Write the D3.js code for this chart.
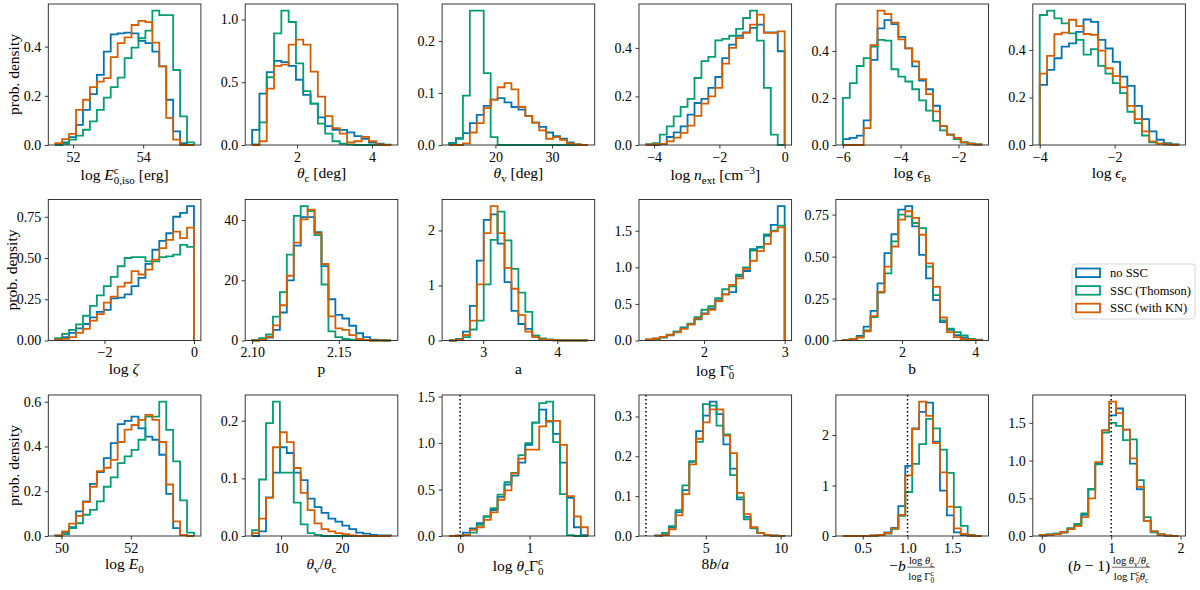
<!DOCTYPE html>
<html>
<head>
<meta charset="utf-8">
<script src="https://cdn.jsdelivr.net/npm/d3@7"></script>
<style>
  body { margin: 0; background: #fff; }
  svg text { font-family: "Liberation Serif", "DejaVu Serif", serif; fill: #000; }
</style>
</head>
<body>
<svg id="chart" width="1200" height="590"></svg>
<script>
// series order in every panel: no SSC, SSC (Thomson), SSC (with KN)
const SERIES = ['no SSC', 'SSC (Thomson)', 'SSC (with KN)'];
const COLORS = ['#0173b2', '#029e73', '#d55e00'];

// histogram heights (prob. density), one row per series
const hEiso = [
  [0, 0.011, 0.032, 0.082, 0.143, 0.207, 0.285, 0.38, 0.45, 0.454, 0.457, 0.454, 0.423, 0.414, 0.38, 0.32, 0.184, 0.055, 0.008, 0],
  [0, 0.005, 0.022, 0.038, 0.062, 0.096, 0.143, 0.193, 0.235, 0.274, 0.353, 0.396, 0.434, 0.465, 0.546, 0.528, 0.528, 0.305, 0.116, 0.011],
  [0.008, 0.024, 0.045, 0.143, 0.184, 0.235, 0.258, 0.272, 0.357, 0.414, 0.438, 0.488, 0.505, 0.5, 0.416, 0.32, 0.11, 0.022, 0, 0]
];
const hThetaC = [
  [0.12, 0.41, 0.58, 0.67, 0.66, 0.63, 0.52, 0.40, 0.33, 0.22, 0.15, 0.12, 0.12, 0.10, 0.07, 0.05, 0.02, 0.01, 0.003],
  [0.005, 0.18, 0.54, 0.89, 1.07, 0.98, 0.65, 0.43, 0.33, 0.17, 0.09, 0.03, 0.01, 0.003, 0, 0, 0, 0, 0],
  [0, 0.03, 0.45, 0.63, 0.64, 0.8, 0.84, 0.8, 0.585, 0.385, 0.23, 0.135, 0.09, 0.02, 0.03, 0.065, 0.03, 0.005, 0]
];
const hThetaV = [
  [0.004, 0.013, 0.023, 0.042, 0.058, 0.075, 0.087, 0.09, 0.082, 0.073, 0.068, 0.056, 0.043, 0.035, 0.024, 0.017, 0.012, 0.005, 0.001, 0],
  [0.003, 0.012, 0.095, 0.258, 0.258, 0.138, 0.015, 0, 0, 0, 0, 0, 0, 0, 0, 0, 0, 0, 0, 0],
  [0, 0, 0.003, 0.024, 0.042, 0.071, 0.087, 0.111, 0.119, 0.107, 0.073, 0.056, 0.043, 0.028, 0.012, 0.015, 0.01, 0.003, 0.001, 0]
];
const hNext = [
  [0, 0, 0.005, 0.033, 0.052, 0.077, 0.125, 0.173, 0.19, 0.235, 0.28, 0.358, 0.413, 0.45, 0.464, 0.482, 0.496, 0.464, 0.464, 0.386],
  [0.003, 0.008, 0.043, 0.077, 0.118, 0.157, 0.19, 0.276, 0.345, 0.363, 0.431, 0.437, 0.45, 0.478, 0.523, 0.553, 0.43, 0.235, 0.043, 0],
  [0.001, 0.003, 0.005, 0.015, 0.03, 0.05, 0.08, 0.12, 0.17, 0.2, 0.235, 0.335, 0.4, 0.44, 0.462, 0.496, 0.537, 0.462, 0.462, 0.468]
];
const hEpsB = [
  [0.025, 0.03, 0.04, 0.105, 0.362, 0.496, 0.531, 0.514, 0.46, 0.411, 0.334, 0.274, 0.237, 0.167, 0.08, 0.044, 0.025, 0.011, 0.006, 0.003],
  [0.2, 0.263, 0.336, 0.369, 0.418, 0.447, 0.444, 0.322, 0.291, 0.27, 0.237, 0.19, 0.146, 0.103, 0.062, 0.044, 0.025, 0.011, 0.006, 0.002],
  [0, 0, 0, 0.072, 0.425, 0.571, 0.557, 0.52, 0.449, 0.411, 0.355, 0.28, 0.216, 0.143, 0.08, 0.044, 0.03, 0.011, 0.006, 0.003]
];
const hEpsE = [
  [0.253, 0.316, 0.365, 0.414, 0.428, 0.476, 0.528, 0.518, 0.442, 0.406, 0.35, 0.288, 0.249, 0.165, 0.109, 0.057, 0.022, 0.008, 0.003],
  [0.547, 0.565, 0.533, 0.512, 0.47, 0.442, 0.38, 0.403, 0.333, 0.3, 0.26, 0.218, 0.14, 0.092, 0.04, 0.011, 0.006, 0.003, 0.001],
  [0.3, 0.375, 0.466, 0.473, 0.527, 0.5, 0.467, 0.463, 0.397, 0.323, 0.29, 0.243, 0.165, 0.109, 0.057, 0.015, 0.006, 0.003, 0.001]
];
const hZeta = [
  [0.01, 0.02, 0.046, 0.074, 0.1, 0.14, 0.174, 0.186, 0.255, 0.26, 0.28, 0.33, 0.38, 0.464, 0.55, 0.604, 0.65, 0.75, 0.774, 0.814],
  [0.014, 0.04, 0.064, 0.098, 0.15, 0.21, 0.274, 0.33, 0.386, 0.45, 0.5, 0.506, 0.506, 0.48, 0.48, 0.506, 0.51, 0.52, 0.58, 0.568],
  [0.005, 0.01, 0.02, 0.046, 0.07, 0.12, 0.16, 0.23, 0.266, 0.326, 0.35, 0.42, 0.4, 0.43, 0.49, 0.56, 0.61, 0.66, 0.62, 0.684]
];
const hP = [
  [0, 0.3, 1, 3.5, 9.3, 20, 31.5, 41, 41, 36, 24.7, 13.7, 8.5, 7.3, 4.9, 2.4, 1.1, 0.3, 0.1, 0],
  [0.2, 0.8, 2, 7.9, 16.1, 28.5, 41.4, 44.6, 43, 35, 18.6, 3, 1.1, 0.5, 0.3, 0.2, 0.1, 0, 0, 0],
  [0, 0.3, 1.2, 5, 11.7, 21.5, 32.5, 40.2, 43.5, 35.6, 25.4, 8, 4, 3.5, 1.8, 0.5, 0.2, 0, 0, 0]
];
const hA = [
  [0, 0.03, 0.16, 0.63, 1.45, 2.19, 2.29, 1.76, 1.06, 0.54, 0.3, 0.21, 0.09, 0.03, 0.01, 0.005, 0, 0, 0, 0],
  [0, 0.02, 0.06, 0.2, 0.36, 1.02, 1.83, 2.34, 1.82, 1.3, 0.87, 0.52, 0.09, 0.04, 0.02, 0.01, 0.005, 0.003, 0.002, 0.001],
  [0, 0.01, 0.1, 0.36, 1.02, 1.95, 2.44, 1.95, 1.32, 0.94, 0.46, 0.16, 0.06, 0.02, 0.01, 0.005, 0, 0, 0, 0]
];
const hGamma0 = [
  [0.012, 0.025, 0.045, 0.07, 0.12, 0.18, 0.22, 0.29, 0.37, 0.44, 0.55, 0.63, 0.66, 0.88, 0.95, 1.25, 1.28, 1.43, 1.58, 1.835],
  [0.01, 0.02, 0.04, 0.08, 0.12, 0.17, 0.23, 0.32, 0.42, 0.47, 0.58, 0.7, 0.74, 0.9, 1.0, 1.23, 1.27, 1.45, 1.5, 1.57],
  [0.014, 0.027, 0.05, 0.077, 0.11, 0.16, 0.22, 0.3, 0.36, 0.42, 0.54, 0.63, 0.76, 0.85, 0.98, 1.09, 1.22, 1.32, 1.49, 1.545]
];
const hB = [
  [0.003, 0.01, 0.028, 0.083, 0.177, 0.34, 0.52, 0.633, 0.78, 0.8, 0.68, 0.51, 0.37, 0.24, 0.11, 0.064, 0.032, 0.018, 0.008, 0.003],
  [0.002, 0.008, 0.02, 0.06, 0.14, 0.285, 0.4, 0.59, 0.75, 0.74, 0.7, 0.67, 0.44, 0.27, 0.12, 0.07, 0.05, 0.03, 0.01, 0.005],
  [0.002, 0.008, 0.018, 0.055, 0.145, 0.29, 0.44, 0.56, 0.72, 0.77, 0.73, 0.63, 0.46, 0.32, 0.137, 0.05, 0.02, 0.008, 0.004, 0.002]
];
const hE0 = [
  [0.003, 0.015, 0.04, 0.11, 0.155, 0.233, 0.286, 0.348, 0.415, 0.5, 0.514, 0.533, 0.481, 0.444, 0.43, 0.363, 0.188, 0.035, 0.005, 0],
  [0, 0.008, 0.035, 0.057, 0.095, 0.117, 0.155, 0.22, 0.262, 0.326, 0.356, 0.385, 0.43, 0.533, 0.533, 0.6, 0.474, 0.333, 0.159, 0.015],
  [0.002, 0.02, 0.055, 0.09, 0.152, 0.22, 0.29, 0.305, 0.34, 0.42, 0.475, 0.496, 0.519, 0.541, 0.519, 0.42, 0.23, 0.065, 0.005, 0]
];
const hViewRatio = [
  [0, 0.008, 0.067, 0.11, 0.154, 0.144, 0.11, 0.097, 0.065, 0.05, 0.04, 0.03, 0.025, 0.018, 0.012, 0.006, 0.004, 0.002, 0.001, 0.001],
  [0.01, 0.098, 0.196, 0.233, 0.11, 0.11, 0.058, 0.02, 0.005, 0.002, 0, 0, 0, 0, 0, 0, 0, 0, 0, 0],
  [0.005, 0.03, 0.066, 0.154, 0.18, 0.163, 0.118, 0.075, 0.045, 0.022, 0.012, 0.008, 0.005, 0.003, 0.001, 0, 0, 0, 0, 0]
];
const hThetaGamma = [
  [0, 0.005, 0.036, 0.083, 0.138, 0.21, 0.28, 0.42, 0.554, 0.65, 0.79, 0.98, 1.22, 1.36, 1.23, 1.1, 0.79, 0.41, 0.094, 0.01],
  [0, 0.003, 0.01, 0.036, 0.12, 0.21, 0.3, 0.446, 0.58, 0.68, 0.87, 1.0, 1.22, 1.43, 1.445, 1.01, 0.45, 0.01, 0, 0],
  [0, 0.003, 0.01, 0.065, 0.094, 0.174, 0.254, 0.39, 0.49, 0.674, 0.833, 0.93, 0.93, 1.18, 1.238, 1.238, 0.98, 0.43, 0.21, 0.094]
];
const hEightBA = [
  [0.001, 0.004, 0.022, 0.06, 0.115, 0.186, 0.263, 0.302, 0.337, 0.306, 0.23, 0.169, 0.092, 0.048, 0.02, 0.007, 0.003, 0.001, 0.0005],
  [0.001, 0.008, 0.025, 0.065, 0.127, 0.188, 0.236, 0.331, 0.327, 0.277, 0.255, 0.153, 0.097, 0.042, 0.019, 0.007, 0.002, 0.001, 0],
  [0.001, 0.002, 0.017, 0.052, 0.105, 0.18, 0.244, 0.285, 0.318, 0.318, 0.252, 0.208, 0.108, 0.055, 0.022, 0.008, 0.003, 0.001, 0.0005]
];
const hCond1 = [
  [0, 0, 0.002, 0.004, 0.008, 0.02, 0.07, 0.16, 0.59, 1.39, 2.13, 2.46, 2.64, 1.87, 0.9, 0.41, 0.07, 0.02, 0.005, 0],
  [0, 0, 0.002, 0.004, 0.008, 0.02, 0.05, 0.14, 0.4, 0.87, 1.43, 1.82, 2.32, 2.13, 1.71, 1.25, 0.57, 0.2, 0.02, 0],
  [0, 0, 0.002, 0.004, 0.01, 0.02, 0.06, 0.15, 0.42, 1.2, 2.12, 2.66, 2.38, 1.84, 1.26, 0.58, 0.15, 0.04, 0.01, 0]
];
const hCond2 = [
  [0.01, 0.02, 0.03, 0.05, 0.1, 0.15, 0.28, 0.62, 0.96, 1.4, 1.6, 1.69, 1.41, 0.96, 0.62, 0.2, 0.06, 0.02, 0.005, 0],
  [0.01, 0.02, 0.03, 0.05, 0.1, 0.16, 0.3, 0.62, 0.95, 1.37, 1.5, 1.46, 1.27, 1.28, 0.74, 0.25, 0.05, 0.02, 0.005, 0],
  [0.01, 0.015, 0.025, 0.05, 0.09, 0.13, 0.25, 0.5, 0.98, 1.4, 1.78, 1.63, 1.41, 1.03, 0.65, 0.2, 0.06, 0.02, 0.005, 0]
];

// per-panel bin layout (first edge, bin width), reference lines and ticks
const heights = [hEiso, hThetaC, hThetaV, hNext, hEpsB, hEpsE,
  hZeta, hP, hA, hGamma0, hB,
  hE0, hViewRatio, hThetaGamma, hEightBA, hCond1, hCond2];
const binStart = [51.49, 0.8, 11.81, -4.25, -6.0, -4.0, -3.1, 2.10, 2.54, 1.28, 0.389, 49.82, 5.24, -0.16, 1.62, 0.277, -0.03];
const binWidth = [0.198, 0.195, 1.225, 0.2125, 0.24, 0.195, 0.155, 0.004, 0.0935, 0.086, 0.189, 0.2, 1.14, 0.1, 0.455, 0.0775, 0.1];
const refLine = [null, null, null, null, null, null, null, null, null, null, null, null, null, 0, 1, 1, 1];
const xTicks = [[52, 54], [2, 4], [20, 30], [-4, -2, 0], [-6, -4, -2], [-4, -2], [-2, 0], [2.10, 2.15], [3, 4], [2, 3], [2, 4],
  [50, 52], [10, 20], [0, 1], [5, 10], [0.5, 1.0, 1.5], [0, 1, 2]];
const xDec = [0, 0, 0, 0, 0, 0, 0, 2, 0, 0, 0, 0, 0, 0, 0, 1, 0];
const yTicks = [[0, 0.2, 0.4], [0, 0.5, 1.0], [0, 0.1, 0.2], [0, 0.2, 0.4], [0, 0.2, 0.4], [0, 0.2, 0.4],
  [0, 0.25, 0.5, 0.75], [0, 20, 40], [0, 1, 2], [0, 0.5, 1.0, 1.5], [0, 0.25, 0.5, 0.75],
  [0, 0.2, 0.4, 0.6], [0, 0.1, 0.2], [0, 0.5, 1.0, 1.5], [0, 0.1, 0.2, 0.3], [0, 1, 2], [0, 0.5, 1.0, 1.5]];
const yDec = [1, 1, 1, 1, 1, 1, 2, 0, 0, 1, 2, 1, 1, 1, 1, 0, 1];

// math label tokens
const R = t => ({ t });
const I = t => ({ t, i: true });
const SB = t => ({ t, sc: 0.71, dy: 3.5 });
const SP = t => ({ t, sc: 0.71, dy: -5.5 });
const ST = (a, b) => ({ stack: [a, b] });
const FR = (n, d) => ({ frac: [n, d] });
const xLabels = [
  [R('log '), I('E'), ST('c', '0,iso'), R(' [erg]')],
  [I('θ'), SB('c'), R(' [deg]')],
  [I('θ'), SB('v'), R(' [deg]')],
  [R('log '), I('n'), SB('ext'), R(' [cm'), SP('−3'), R(']')],
  [R('log '), I('ϵ'), SB('B')],
  [R('log '), I('ϵ'), SB('e')],
  [R('log '), I('ζ')],
  [R('p')],
  [R('a')],
  [R('log Γ'), ST('c', '0')],
  [R('b')],
  [R('log '), I('E'), SB('0')],
  [I('θ'), SB('v'), R('/'), I('θ'), SB('c')],
  [R('log '), I('θ'), SB('c'), R('Γ'), ST('c', '0')],
  [R('8'), I('b'), R('/'), I('a')],
  [R('−'), I('b'), FR([R('log '), I('θ'), SB('c')], [R('log Γ'), ST('c', '0')])],
  [R('('), I('b'), R(' − 1)'), FR([R('log '), I('θ'), SB('v'), R('/'), I('θ'), SB('c')], [R('log Γ'), ST('c', '0'), I('θ'), SB('c')])]
];

const BASE = 14;      // reference size for sub/sup offsets
const TICK_FS = 14;
const LABEL_FS = 15.5;
const LEFT0 = 48.3, COL_STEP = 196.9, PW = 152.6, PH = 141;
const ROW_TOP = [4, 199.5, 395];

const svg = d3.select('#chart');

function put(g, tok, x, y, fs) {
  if (tok.stack) {
    const w1 = put(g, SP(tok.stack[0]), x, y, fs);
    const w2 = put(g, SB(tok.stack[1]), x, y, fs);
    return Math.max(w1, w2);
  }
  if (tok.frac) {
    const ffs = fs * 0.68;
    const ng = g.append('g');
    const dg = g.append('g');
    let nw = 0;
    tok.frac[0].forEach((t) => { nw += put(ng, t, nw, 0, ffs); });
    let dw = 0;
    tok.frac[1].forEach((t) => { dw += put(dg, t, dw, 0, ffs); });
    const w = Math.max(nw, dw) + 2;
    const k = fs / BASE;
    ng.attr('transform', `translate(${x + 1.5 + (w - nw) / 2},${y - 6.5 * k})`);
    dg.attr('transform', `translate(${x + 1.5 + (w - dw) / 2},${y + 8 * k})`);
    g.append('line')
      .attr('x1', x + 1.5).attr('x2', x + 1.5 + w)
      .attr('y1', y - 3.6 * k).attr('y2', y - 3.6 * k)
      .attr('stroke', '#000').attr('stroke-width', 0.6);
    return w + 3;
  }
  const el = g.append('text')
    .attr('x', x)
    .attr('y', y + (tok.dy || 0) * fs / BASE)
    .attr('font-size', fs * (tok.sc || 1))
    .attr('font-style', tok.i ? 'italic' : 'normal')
    .style('white-space', 'pre')
    .text(tok.t);
  return el.node().getComputedTextLength();
}

heights.forEach((h, k) => {
  const row = k < 6 ? 0 : k < 11 ? 1 : 2;
  const col = k < 6 ? k : k < 11 ? k - 6 : k - 11;
  const x0 = LEFT0 + col * COL_STEP;
  const y0 = ROW_TOP[row];
  const start = binStart[k];
  const bw = binWidth[k];
  const n = h[0].length;
  const end = start + n * bw;
  let lo = start;
  let hi = end;
  if (refLine[k] !== null) {
    lo = Math.min(lo, refLine[k]);
    hi = Math.max(hi, refLine[k]);
  }
  const m = (hi - lo) * 0.05;

  const x = d3.scaleLinear().domain([lo - m, hi + m]).range([x0, x0 + PW]);
  const y = d3.scaleLinear().domain([0, d3.max(h.flat()) * 1.05]).range([y0 + PH, y0]);

  const g = svg.append('g');
  const line = d3.line().x((d) => x(d[0])).y((d) => y(d[1]));

  h.forEach((vals, s) => {
    const pts = [[start, 0]];
    vals.forEach((v, i) => {
      pts.push([start + i * bw, v], [start + (i + 1) * bw, v]);
    });
    pts.push([end, 0]);
    g.append('path')
      .attr('d', line(pts))
      .attr('fill', 'none')
      .attr('stroke', COLORS[s])
      .attr('stroke-width', 1.8);
  });

  if (refLine[k] !== null) {
    g.append('line')
      .attr('x1', x(refLine[k])).attr('x2', x(refLine[k]))
      .attr('y1', y0).attr('y2', y0 + PH)
      .attr('stroke', '#000')
      .attr('stroke-width', 1.5)
      .attr('stroke-dasharray', '1.5,2.5');
  }

  const yAxis = g.append('g')
    .attr('transform', `translate(${x0},0)`)
    .call(d3.axisLeft(y).tickValues(yTicks[k]).tickFormat(d3.format(`.${yDec[k]}f`)).tickSize(3.5).tickPadding(3.5));
  const xAxis = g.append('g')
    .attr('transform', `translate(0,${y0 + PH})`)
    .call(d3.axisBottom(x).tickValues(xTicks[k]).tickFormat(d3.format(`.${xDec[k]}f`)).tickSize(3.5).tickPadding(3.5));
  [yAxis, xAxis].forEach((ax) => {
    ax.attr('font-size', TICK_FS).attr('font-family', null);
    ax.select('.domain').remove();
    ax.selectAll('line').attr('stroke', '#222').attr('stroke-width', 0.9);
    ax.selectAll('text').attr('fill', '#000');
  });

  g.append('rect')
    .attr('x', x0).attr('y', y0)
    .attr('width', PW).attr('height', PH)
    .attr('fill', 'none')
    .attr('stroke', '#222')
    .attr('stroke-width', 0.9);

  // x label, centred under the axes, top aligned below tick labels
  const lab = g.append('g');
  let cx = 0;
  xLabels[k].forEach((tok) => { cx += put(lab, tok, cx, 0, LABEL_FS); });
  const bb = lab.node().getBBox();
  lab.attr('transform', `translate(${x0 + PW / 2 - (bb.x + bb.width / 2)},${y0 + PH + 19 - bb.y})`);

  if (col === 0) {
    // y label sits just left of the widest tick label, but stays on the page
    const tickLeft = x0 + yAxis.node().getBBox().x;
    const bx = Math.max(16.5, tickLeft - 5);
    g.append('text')
      .attr('transform', `translate(${bx},${y0 + PH / 2}) rotate(-90)`)
      .attr('text-anchor', 'middle')
      .attr('font-size', LABEL_FS)
      .text('prob. density');
  }
});

// legend
const legend = svg.append('g');
legend.append('rect')
  .attr('x', 1072).attr('y', 264)
  .attr('width', 123).attr('height', 55)
  .attr('rx', 3)
  .attr('fill', '#fff')
  .attr('stroke', '#d0d0d0')
  .attr('stroke-width', 0.9);
const items = legend.selectAll('g.item')
  .data(SERIES)
  .enter()
  .append('g')
  .attr('class', 'item')
  .attr('transform', (d, i) => `translate(1076,${272.8 + i * 17.6})`);
items.append('rect')
  .attr('x', 0).attr('y', -4.3)
  .attr('width', 24).attr('height', 8.6)
  .attr('fill', 'none')
  .attr('stroke', (d, i) => COLORS[i])
  .attr('stroke-width', 1.8);
items.append('text')
  .attr('x', 34)
  .attr('dy', '0.35em')
  .attr('font-size', 12.5)
  .text((d) => d);
</script>
</body>
</html>
